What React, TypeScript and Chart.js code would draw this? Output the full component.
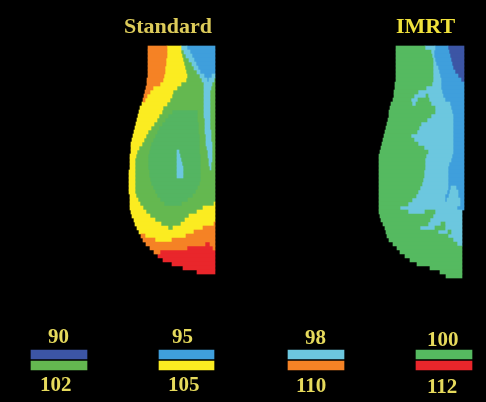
import { useEffect, useRef } from "react"
import { Chart, registerables } from "chart.js"

Chart.register(...registerables)

const WIDTH = 486
const HEIGHT = 402
const TEXT_FONT = "bold 22px 'Liberation Serif'"
const NUMBER_FONT = "bold 21px 'Liberation Serif'"
const ROW = 4

const bandColors: Record<string, string> = {
  n: "#3C55A5",
  b: "#3F9FDC",
  c: "#6CC7DF",
  m: "#55BA60",
  g: "#64B850",
  d: "#54B562",
  y: "#FBEC21",
  o: "#F58225",
  r: "#E9262B",
}

// each row: top of the row, left edge, then band + where that band ends
const standardRows = [
  "46 148 o167 y181 c187 b215",
  "50 148 o167 y181 g184 c190 b215",
  "54 148 o167 y182 g186 c192 b215",
  "58 148 o166 y183 g189 c194 b215",
  "62 148 o166 y184 g192 c196 b215",
  "66 148 o165 y185 g194 c198 b215",
  "70 148 o165 y186 g197 c200 b215",
  "74 148 o164 y187 g200 c204 b212 c215",
  "78 147 o163 y186 g202 c207 b209 c214 g215",
  "82 147 o160 y181 g204 c212 g215",
  "86 146 o153 y177 g204 c211 g215",
  "90 145 o150 y173 g204 c210 g215",
  "94 144 o147 y172 g204 c210 g215",
  "98 143 o145 y170 g204 c210 g215",
  "102 142 y167 g204 c210 g215",
  "106 140 y163 g204 c210 g215",
  "110 139 y162 g172 d198 g204 c210 g215",
  "114 138 y159 g168 d198 g204 c210 g215",
  "118 137 y157 g165 d198 g205 c210 g215",
  "122 136 y154 g162 d199 g205 c210 g215",
  "126 135 y151 g159 d199 g205 c210 g215",
  "130 134 y148 g157 d199 g205 c211 g215",
  "134 133 y146 g155 d200 g206 c211 g215",
  "138 132 y144 g153 d200 g206 c211 g215",
  "142 131 y142 g151 d200 g206 c212 g215",
  "146 131 y139 g150 d200 g207 c212 g215",
  "150 131 y137 g149 d177 c179 d200 g208 c212 g215",
  "154 130 y136 g148 d177 c180 d201 g208 c212 g215",
  "158 130 y135 g148 d177 c181 d201 g209 c212 g215",
  "162 130 y135 g148 d177 c182 d201 g209 c211 g215",
  "166 130 y135 g148 d177 c183 d201 g210 c211 g215",
  "170 129 y135 g149 d177 c183 d201 g215",
  "174 129 y135 g149 d177 c183 d201 g215",
  "178 129 y135 g150 d201 g215",
  "182 129 y135 g151 d200 g215",
  "186 129 y135 g153 d198 g215",
  "190 129 y135 g155 d196 g215",
  "194 130 y136 g157 d193 g215",
  "198 130 y138 g160 d188 g215",
  "202 130 y140 g164 d182 g214 y215",
  "206 130 y143 g203 y215",
  "210 131 y146 g197 y215",
  "214 132 y150 g189 y215",
  "218 134 y155 g185 y215",
  "222 135 y161 g181 y214 o215",
  "226 137 y168 g173 y203 o215",
  "230 139 y194 o215",
  "234 141 o145 y186 o215",
  "238 143 o155 y172 o215",
  "242 146 o205 r210 o215",
  "246 150 o187 r213 o215",
  "250 154 o160 r215",
  "254 158 r215",
  "258 163 r215",
  "262 172 r215",
  "266 183 r215",
  "270 197 r215",
]

const imrtRows = [
  "46 396 m425 c435 b448 n464",
  "50 396 m431 c434 b449 n464",
  "54 396 m432 c434 b450 n464",
  "58 396 m433 c435 b451 n464",
  "62 396 m433 c436 b452 n464",
  "66 396 m433 c438 b453 n464",
  "70 396 m433 c439 b455 n464",
  "74 396 m433 c440 b458 n464",
  "78 396 m433 c441 b461 n464",
  "82 395 m432 c441 b464",
  "86 395 m426 c441 b464",
  "90 394 m418 c442 b464",
  "94 394 m414 c426 m428 c443 b464",
  "98 393 m411 c418 m429 c445 b464",
  "102 391 m412 c416 m431 c450 b464",
  "106 390 m435 c451 b464",
  "110 389 m435 c452 b464",
  "114 389 m431 c453 b464",
  "118 388 m427 c453 b464",
  "122 387 m421 c453 b464",
  "126 386 m419 c453 b464",
  "130 385 m417 c453 b464",
  "134 384 m411 c453 b464",
  "138 383 m414 c453 b464",
  "142 382 m418 c453 b464",
  "146 381 m424 c453 b464",
  "150 380 m428 c453 b464",
  "154 379 m426 c452 b464",
  "158 379 m425 c451 b464",
  "162 379 m425 c449 b464",
  "166 379 m425 c448 b464",
  "170 379 m424 c448 b464",
  "174 379 m424 c448 b464",
  "178 379 m423 c448 b464",
  "182 379 m422 c448 b464",
  "186 379 m420 c448 b451 c456 b464",
  "190 379 m418 c447 b450 c458 b464",
  "194 379 m416 c445 b449 c458 b464",
  "198 379 m412 c445 b447 c460 b464",
  "202 379 m408 c460 b464",
  "206 379 m400 c457 b464",
  "210 379 m408 c425 m435 c462",
  "214 380 m433 c462",
  "218 381 m430 c462",
  "222 383 m428 c441 m445 c462",
  "226 385 m420 c435 m445 c462",
  "230 386 m438 c448 m451 c462",
  "234 387 m448 c462",
  "238 389 m453 c462",
  "242 393 m457 c462",
  "246 397 m462",
  "250 400 m462",
  "254 405 m462",
  "258 410 m462",
  "262 417 m462",
  "266 430 m462",
  "270 440 m462",
  "274 446 m462",
]

// dose key: upper swatch and lower swatch of each pair
const keyStarts = [31, 159, 288, 416]
const keyEnds = [87, 214, 344, 472]
const keyUpperBands = ["n", "b", "c", "m"]
const keyLowerBands = ["g", "y", "o", "r"]
const KEY_UPPER_Y = 354.5
const KEY_LOWER_Y = 365.5
const KEY_THICKNESS = 9

const titleLabels = ["Standard", "IMRT"]
const titleX = [124, 396]
const titleY = [33, 33]

const upperLabels = ["90", "95", "98", "100"]
const upperX = [48, 172, 305, 427]
const upperY = [343, 343, 344, 346]

const lowerLabels = ["102", "105", "110", "112"]
const lowerX = [40, 168, 296, 427]
const lowerY = [391, 391, 392, 393]

type Run = { x: [number, number]; y: number }

function collectRuns(rows: string[]) {
  const runs: Record<string, Run[]> = {}
  rows.forEach((row) => {
    const parts = row.split(" ")
    const y = Number(parts[0]) + ROW / 2
    let from = Number(parts[1])
    parts.slice(2).forEach((part) => {
      const band = part[0]
      const to = Number(part.slice(1))
      ;(runs[band] = runs[band] || []).push({ x: [from, to], y })
      from = to
    })
  })
  return runs
}

function barDataset(label: string, band: string, data: Run[], thickness: number) {
  return {
    label,
    data,
    backgroundColor: bandColors[band],
    borderWidth: 0,
    barThickness: thickness,
    grouped: false,
  }
}

const labelsPlugin = {
  id: "imageLabels",
  afterDraw(chart: any) {
    const { ctx, scales } = chart
    const put = (labels: string[], xs: number[], ys: number[], font: string, color: string) => {
      ctx.font = font
      ctx.fillStyle = color
      ctx.textAlign = "left"
      ctx.textBaseline = "alphabetic"
      labels.forEach((text, i) => {
        ctx.fillText(text, scales.x.getPixelForValue(xs[i]), scales.y.getPixelForValue(ys[i]))
      })
    }
    ctx.save()
    put(titleLabels.slice(0, 1), titleX, titleY, TEXT_FONT, "#DCCB5A")
    put(titleLabels.slice(1), titleX.slice(1), titleY.slice(1), TEXT_FONT, "#F0E23C")
    put(upperLabels, upperX, upperY, NUMBER_FONT, "#E6DA5C")
    put(lowerLabels, lowerX, lowerY, NUMBER_FONT, "#E6DA5C")
    ctx.restore()
  },
}

export default function App() {
  const chartRef = useRef<HTMLCanvasElement>(null)

  useEffect(() => {
    if (!chartRef.current) return
    document.body.style.margin = "0"
    document.body.style.background = "#000"

    const datasets: any[] = []
    const addPanel = (name: string, rows: string[]) => {
      const runs = collectRuns(rows)
      Object.keys(runs).forEach((band) => {
        datasets.push(barDataset(`${name} ${band}`, band, runs[band], ROW))
      })
    }
    addPanel("Standard", standardRows)
    addPanel("IMRT", imrtRows)

    keyStarts.forEach((start, i) => {
      datasets.push(
        barDataset(upperLabels[i], keyUpperBands[i], [{ x: [start, keyEnds[i]], y: KEY_UPPER_Y }], KEY_THICKNESS),
        barDataset(lowerLabels[i], keyLowerBands[i], [{ x: [start, keyEnds[i]], y: KEY_LOWER_Y }], KEY_THICKNESS),
      )
    })

    const chart = new Chart(chartRef.current, {
      type: "bar",
      data: { datasets },
      plugins: [labelsPlugin],
      options: {
        indexAxis: "y",
        animation: false,
        responsive: false,
        layout: { padding: 0 },
        plugins: {
          legend: { display: false },
          tooltip: { enabled: false },
        },
        scales: {
          x: { type: "linear", min: 0, max: WIDTH, display: false },
          y: { type: "linear", min: 0, max: HEIGHT, reverse: true, offset: false, display: false },
        },
      },
    } as any)

    return () => {
      chart.destroy()
    }
  }, [])

  return (
    <canvas
      ref={chartRef}
      width={WIDTH}
      height={HEIGHT}
      style={{ display: "block", width: WIDTH, height: HEIGHT, background: "#000" }}
    />
  )
}
